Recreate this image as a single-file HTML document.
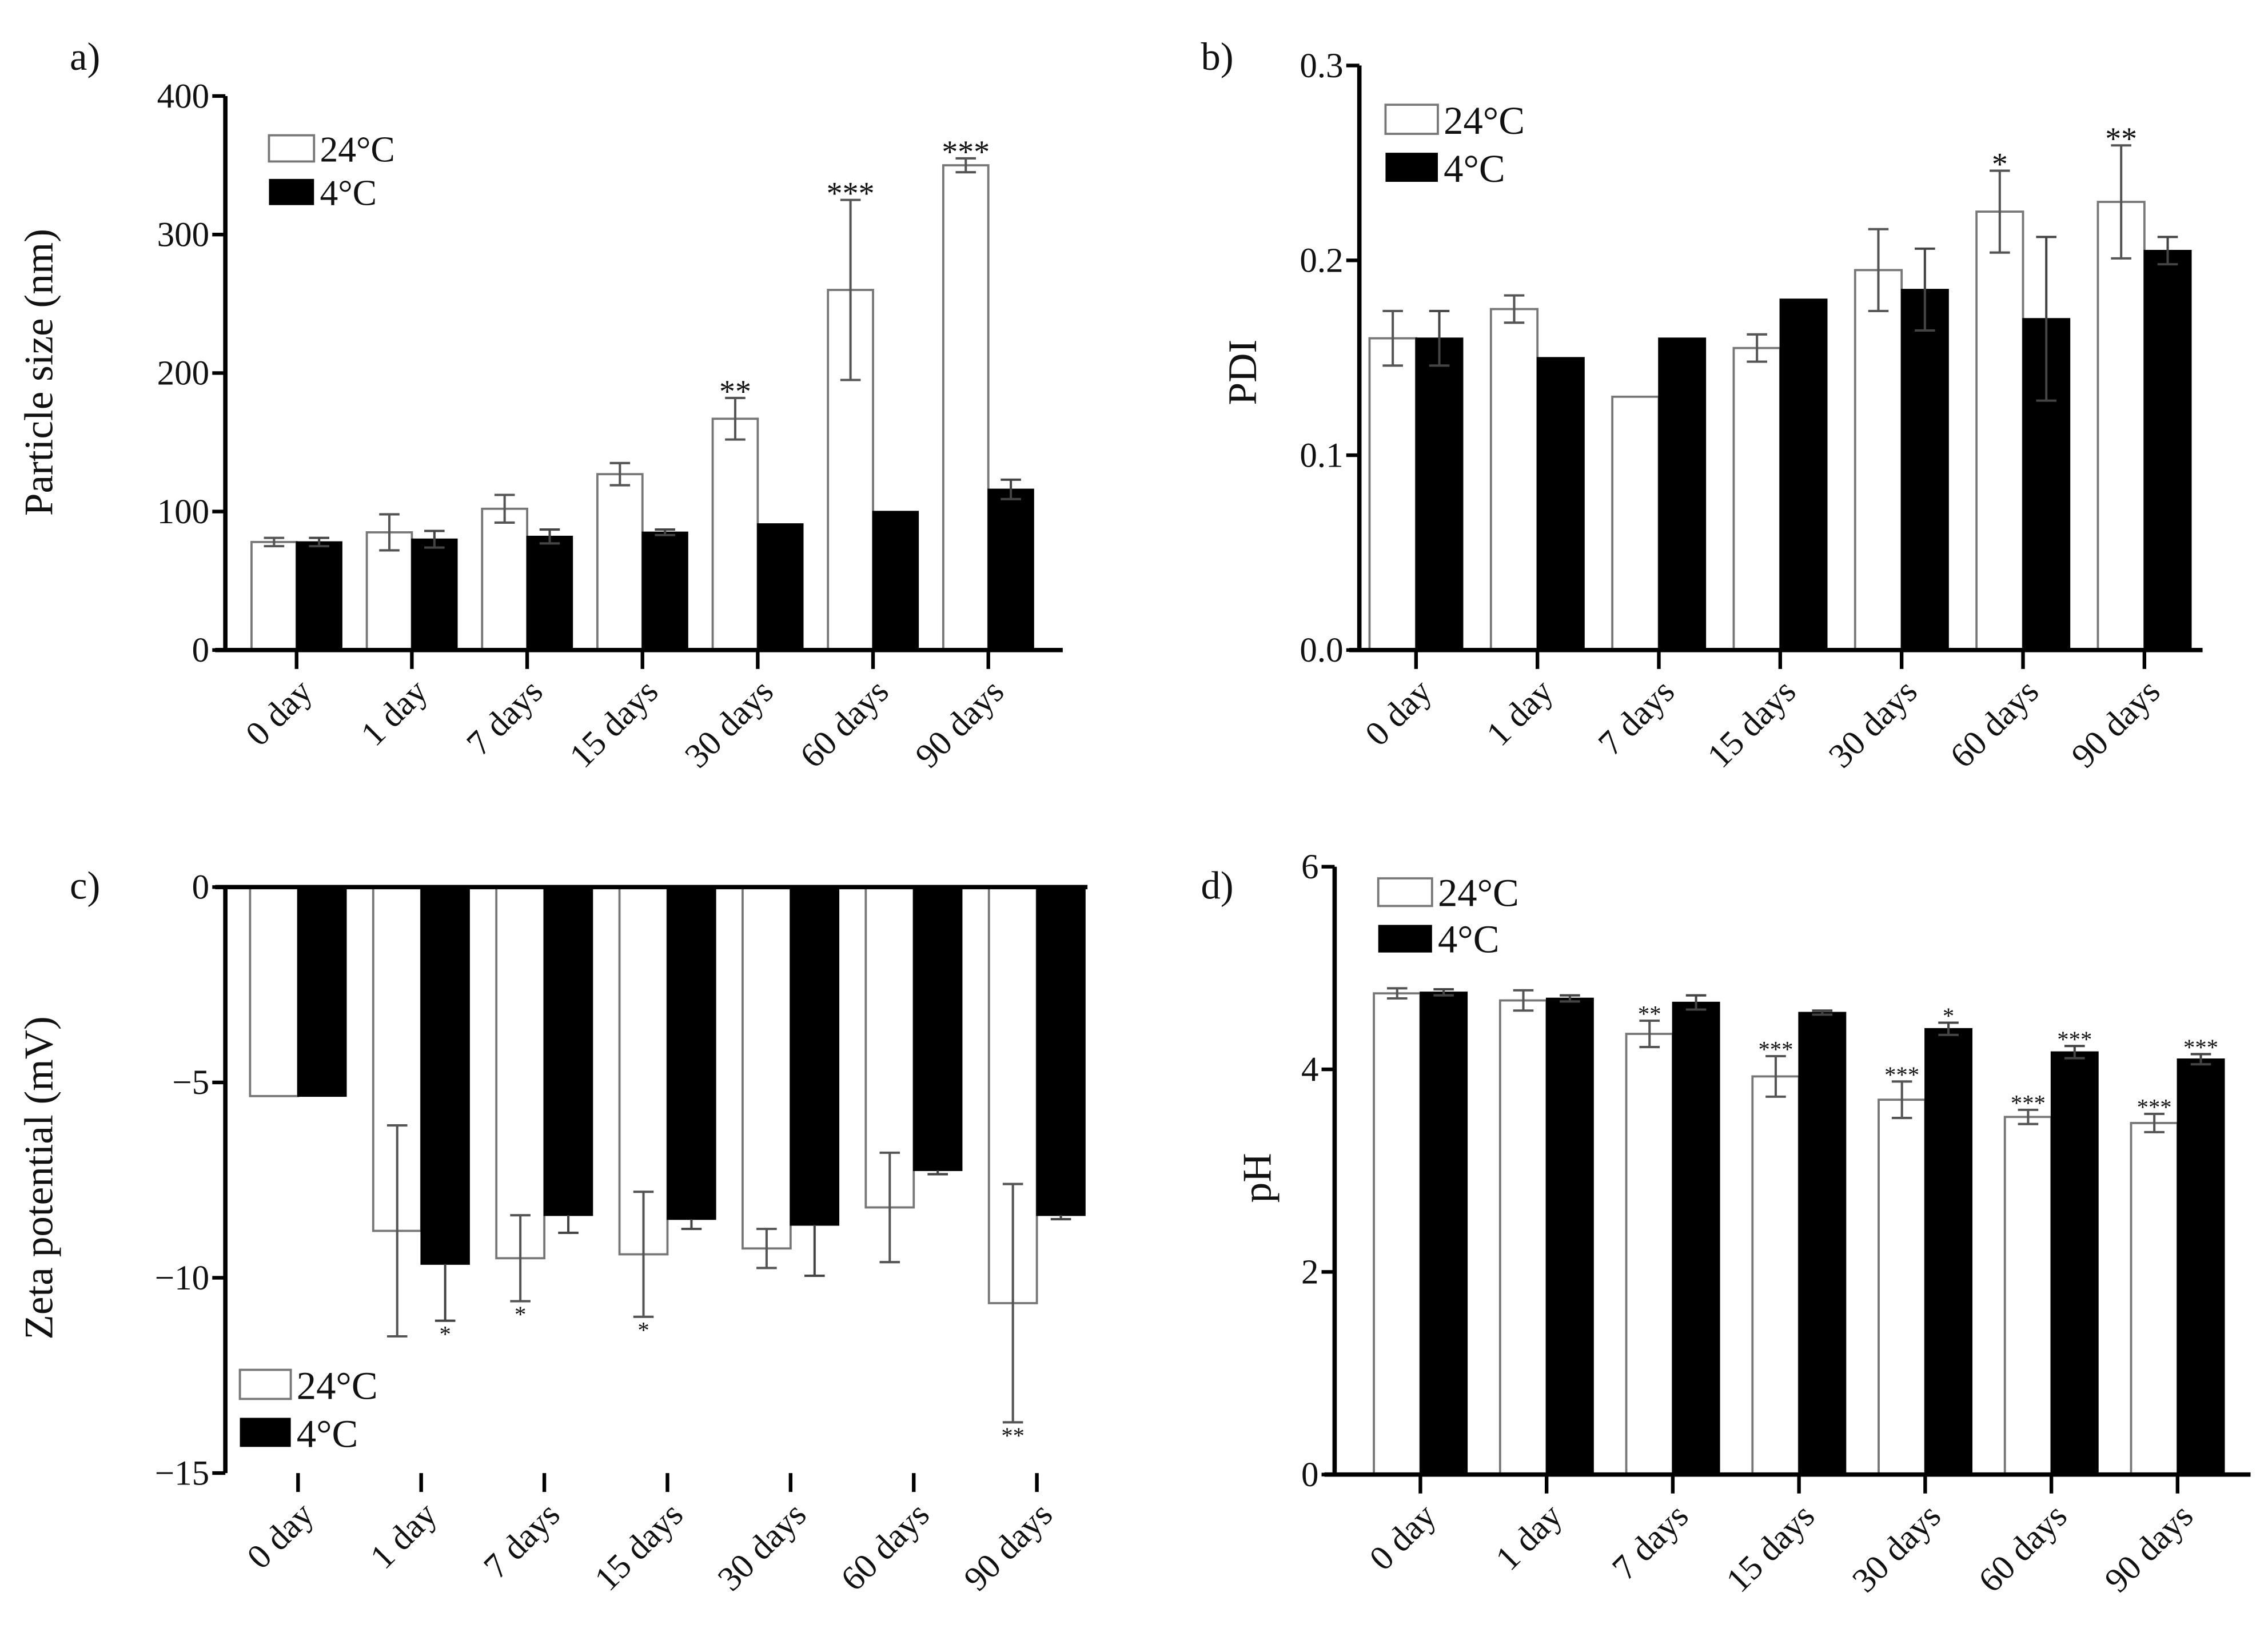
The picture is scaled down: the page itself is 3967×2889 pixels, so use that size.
<!DOCTYPE html>
<html><head><meta charset="utf-8"><style>html,body{margin:0;padding:0;background:#fff}svg{display:block}text{font-family:"Liberation Serif",serif;fill:#111}</style></head>
<body>
<svg id="fig" width="3967" height="2889" viewBox="0 0 1560 1136" xmlns="http://www.w3.org/2000/svg">
<text x="48" y="48" font-size="27">a)</text>
<text x="826" y="48" font-size="27">b)</text>
<text x="48" y="618" font-size="27">c)</text>
<text x="826" y="618" font-size="27">d)</text>
</svg>
<script>
const categories=["0 day","1 day","7 days","15 days","30 days","60 days","90 days"];
const sizeWarm=[78,85,102,127,167,260,350];
const sizeWarmErr=[3,13,10,8,15,65,5];
const sizeCold=[78,80,82,85,91,100,116];
const sizeColdErr=[3,6,5,2,0,0,7];
const sizeStars=["","","","","**","***","***"];
const sizeTicks=[0,100,200,300,400];
const pdiWarm=[0.160,0.175,0.130,0.155,0.195,0.225,0.230];
const pdiWarmErr=[0.014,0.007,0,0.007,0.021,0.021,0.029];
const pdiCold=[0.160,0.150,0.160,0.180,0.185,0.170,0.205];
const pdiColdErr=[0.014,0,0,0,0.021,0.042,0.007];
const pdiStars=["","","","","","*","**"];
const pdiTicks=[0,0.1,0.2,0.3];
const zetaWarm=[-5.35,-8.8,-9.5,-9.4,-9.25,-8.2,-10.65];
const zetaWarmErr=[0,2.7,1.1,1.6,0.5,1.4,3.05];
const zetaCold=[-5.35,-9.65,-8.4,-8.5,-8.65,-7.25,-8.4];
const zetaColdErr=[0,1.45,0.45,0.25,1.3,0.1,0.1];
const zetaStarsWarm=["","","*","*","","","**"];
const zetaStarsCold=["","*","","","","",""];
const zetaTicks=[0,-5,-10,-15];
const phWarm=[4.75,4.68,4.35,3.93,3.70,3.53,3.47];
const phWarmErr=[0.05,0.1,0.13,0.2,0.18,0.07,0.09];
const phCold=[4.76,4.70,4.66,4.56,4.40,4.17,4.10];
const phColdErr=[0.03,0.03,0.07,0.02,0.06,0.06,0.05];
const phStarsWarm=["","","**","***","***","***","***"];
const phStarsCold=["","","","","*","***","***"];
const phTicks=[0,2,4,6];

const svg=document.getElementById('fig');
const NS="http://www.w3.org/2000/svg";
function mk(tag,attrs,parent){const e=document.createElementNS(NS,tag);for(const k in attrs)e.setAttribute(k,attrs[k]);(parent||svg).appendChild(e);return e;}

function panel(p){
  const g=mk('g',{});
  
  
  const y=v=>p.y0+(v-p.vmin)/(p.vmax-p.vmin)*(p.y1-p.y0);
  const cx=i=>p.c0+i*p.step;
  const base=y(0);
  const ya=mk('line',{x1:p.ax,x2:p.ax,y1:y(p.vmin),y2:y(p.vmax),stroke:'#000','stroke-width':3},g);
  
  
  p.ticks.forEach(t=>{
    mk('line',{x1:p.ax-9,x2:p.ax,y1:y(t),y2:y(t),stroke:'#000','stroke-width':2.5},g);
    const tl=mk('text',{x:p.ax-11,y:y(t)+8,'font-size':24,'text-anchor':'end'},g);
    tl.textContent=p.fmt(t).replace('-','\u2212');
    
    
  });
  const yt=mk('text',{x:0,y:0,'font-size':28,'text-anchor':'middle',transform:`translate(${p.ytx},${p.yty}) rotate(-90)`},g);
  yt.textContent=p.ylabel;
  
  
  const bw=p.bw;
  for(let i=0;i<categories.length;i++){
    const c=cx(i);
    const yw=y(p.warm[i]),yc=y(p.cold[i]);
    const bwEl=mk('rect',{x:c-bw,y:Math.min(yw,base),width:bw,height:Math.abs(base-yw),fill:'#fff',stroke:'#777','stroke-width':1.5},g);
    
    
    const bc=mk('rect',{x:c,y:Math.min(yc,base),width:bw,height:Math.abs(base-yc),fill:'#000',stroke:'#000','stroke-width':1},g);
    
    
    const err=(xc,v,e,col,oneSided)=>{
      if(!e)return;
      const hi=y(v+e), lo=y(v-e);
      const g2=mk('g',{stroke:col,'stroke-width':1.6},g);
      
      
      const y1=oneSided?y(v):hi,y2=oneSided?(v<0?lo:hi):lo;
      mk('line',{x1:xc,x2:xc,y1:y1,y2:y2},g2);
      mk('line',{x1:xc-7,x2:xc+7,y1:y2,y2:y2},g2);
      if(!oneSided)mk('line',{x1:xc-7,x2:xc+7,y1:y1,y2:y1},g2);
    };
    err(c-bw/2,p.warm[i],p.warmErr[i],'#555',false);
    err(c+bw/2,p.cold[i],p.coldErr[i],'#444',p.coldOne);
    mk('line',{x1:c,x2:c,y1:p.catY,y2:p.catY+13,stroke:'#000','stroke-width':2.5},g);
    const cl=mk('text',{x:0,y:0,'font-size':24,'text-anchor':'end',transform:`translate(${c+12},${p.catY+30}) rotate(-45)`},g);
    cl.textContent=categories[i];
    
    
    const st=(s,xc,v,e,fs,col)=>{
      if(!s)return;
      const yy=v>=0?y(v+e)-5+fs*0.35:y(v-e)+fs*0.9;
      const t=mk('text',{x:xc,y:yy,'font-size':fs,'text-anchor':'middle',fill:col},g);
      t.textContent=s;
      
      
    };
    if(p.starsW)st(p.starsW[i],c-bw/2,p.warm[i],p.warmErr[i],p.starFs,p.starCol);
    if(p.starsC)st(p.starsC[i],c+bw/2,p.cold[i],p.coldErr[i],p.starFs,p.starCol);
  }
  const xa=mk('line',{x1:p.ax-7,x2:p.axEnd,y1:base,y2:base,stroke:'#000','stroke-width':3},g);
  
  
  const lg=mk('g',{},g);
  
  
  const L=p.leg;
  mk('rect',{x:L.x,y:L.y,width:L.w,height:L.h,fill:'#fff',stroke:'#777','stroke-width':1.5},lg);
  mk('rect',{x:L.x,y:L.y+L.gap,width:L.w,height:L.h,fill:'#000'},lg);
  const t1=mk('text',{x:L.x+L.w+4,y:L.y+L.h,'font-size':L.fs},lg);t1.textContent='24°C';
  
  
  const t2=mk('text',{x:L.x+L.w+4,y:L.y+L.gap+L.h,'font-size':L.fs},lg);t2.textContent='4°C';
  
  
}

panel({name:'panel-a-particle-size',vmin:0,vmax:400,y0:447,y1:66,ax:155,axEnd:731,c0:204,step:79.3,bw:31,catY:447,
  warm:sizeWarm,warmErr:sizeWarmErr,cold:sizeCold,coldErr:sizeColdErr,coldOne:false,starsW:sizeStars,starFs:22,starCol:'#222',
  ticks:sizeTicks,fmt:t=>String(t),ylabel:'Particle size (nm)',ytx:36,yty:256,leg:{x:185,y:93,w:31,h:18,gap:30,fs:25}});
panel({name:'panel-b-pdi',vmin:0,vmax:0.3,y0:447,y1:45,ax:935,axEnd:1515,c0:974,step:83.5,bw:32,catY:447,
  warm:pdiWarm,warmErr:pdiWarmErr,cold:pdiCold,coldErr:pdiColdErr,coldOne:false,starsW:pdiStars,starFs:22,starCol:'#222',
  ticks:pdiTicks,fmt:t=>t.toFixed(1),ylabel:'PDI',ytx:864,yty:256,leg:{x:953,y:72,w:36,h:20,gap:33,fs:27}});
panel({name:'panel-c-zeta-potential',vmin:-15,vmax:0,y0:1013,y1:610,ax:155,axEnd:748,c0:205,step:84.7,bw:33,catY:1013,
  warm:zetaWarm,warmErr:zetaWarmErr,cold:zetaCold,coldErr:zetaColdErr,coldOne:true,starsW:zetaStarsWarm,starsC:zetaStarsCold,starFs:16,starCol:'#666',
  ticks:zetaTicks,fmt:t=>String(t),ylabel:'Zeta potential (mV)',ytx:36,yty:810,leg:{x:165,y:942,w:35,h:20,gap:33,fs:27}});
panel({name:'panel-d-ph',vmin:0,vmax:6,y0:1014,y1:596,ax:918,axEnd:1548,c0:977,step:86.8,bw:32,catY:1014,
  warm:phWarm,warmErr:phWarmErr,cold:phCold,coldErr:phColdErr,coldOne:false,starsW:phStarsWarm,starsC:phStarsCold,starFs:16,starCol:'#666',
  ticks:phTicks,fmt:t=>String(t),ylabel:'pH',ytx:874,yty:810,leg:{x:948,y:604,w:37,h:19,gap:32,fs:27}});
</script>
</body></html>
